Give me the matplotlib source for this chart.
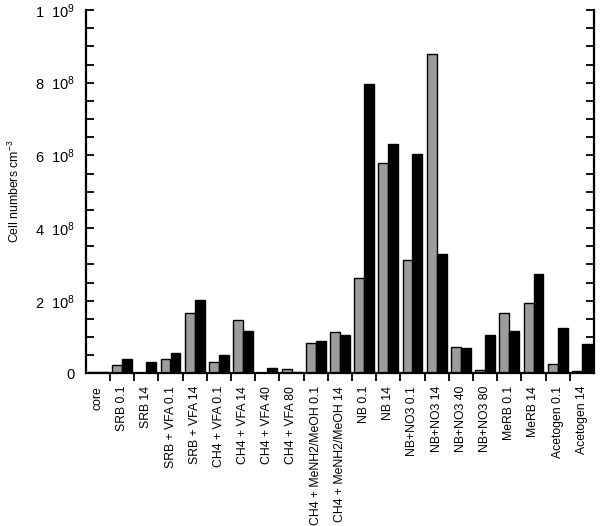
import matplotlib
matplotlib.use("Agg")
import matplotlib.pyplot as plt
import numpy as np

categories = ["core", "SRB 0.1", "SRB 14", "SRB + VFA 0.1", "SRB + VFA 14",
              "CH4 + VFA 0.1", "CH4 + VFA 14", "CH4 + VFA 40", "CH4 + VFA 80",
              "CH4 + MeNH2/MeOH 0.1", "CH4 + MeNH2/MeOH 14", "NB 0.1", "NB 14",
              "NB+NO3 0.1", "NB+NO3 14", "NB+NO3 40", "NB+NO3 80", "MeRB 0.1",
              "MeRB 14", "Acetogen 0.1", "Acetogen 14"]
# values in units of 1e8 cells cm^-3
grey_vals = [0.04, 0.24, 0.0, 0.40, 1.65, 0.31, 1.46, 0.01, 0.12, 0.84, 1.13,
             2.63, 5.80, 3.11, 8.79, 0.74, 0.09, 1.65, 1.94, 0.27, 0.06]
black_vals = [0.04, 0.40, 0.32, 0.57, 2.02, 0.50, 1.16, 0.16, 0.05, 0.88, 1.07,
              7.97, 6.31, 6.03, 3.30, 0.69, 1.05, 1.16, 2.75, 1.24, 0.80]
ytick_vals = [0, 2e8, 4e8, 6e8, 8e8, 1e9]
ytick_labels = ["0", r"2  $10^8$", r"4  $10^8$", r"6  $10^8$", r"8  $10^8$", r"1  $10^9$"]

plt.rcParams['font.family'] = ['Liberation Sans', 'DejaVu Sans']
plt.rcParams['mathtext.fontset'] = 'custom'
plt.rcParams['mathtext.rm'] = 'Liberation Sans'
plt.rcParams['mathtext.it'] = 'Liberation Sans'

fig = plt.figure(figsize=(6.0, 5.26), dpi=100)
ax = fig.add_axes([0.143, 0.290, 0.847, 0.691])

x = np.arange(len(categories))
w = 0.41
g = np.array(grey_vals) * 1e8
b = np.array(black_vals) * 1e8
ax.bar(x - w / 2, g, width=w, color='#9c9c9c', edgecolor='black', linewidth=1.0)
ax.bar(x + w / 2, b, width=w, color='black', edgecolor='black', linewidth=1.0)

ax.set_xlim(-0.5, len(categories) - 0.5)
ax.set_ylim(0, 1e9)

ax.spines['top'].set_visible(False)
for s in ['left', 'right', 'bottom']:
    ax.spines[s].set_linewidth(1.6)

ax.set_yticks(ytick_vals)
ax.set_yticklabels(ytick_labels, fontsize=10.5)
ax.set_yticks(np.arange(0, 1e9 + 1, 0.5e8), minor=True)
ax.tick_params(axis='y', which='both', direction='in', left=True, right=True,
               length=6, width=1.3, pad=8)

ax.set_xticks(x[:-1] + 0.5)
ax.set_xticklabels([])
ax.set_xticks(x, minor=True)
ax.set_xticklabels(categories, minor=True, rotation=90, fontsize=8.8)
ax.tick_params(axis='x', which='major', direction='out', length=6, width=1.3)
ax.tick_params(axis='x', which='minor', length=0, pad=9)

ax.set_ylabel(r"Cell numbers cm$^{-3}$", fontsize=8.8, labelpad=9)

fig.savefig("out.png", dpi=100)
